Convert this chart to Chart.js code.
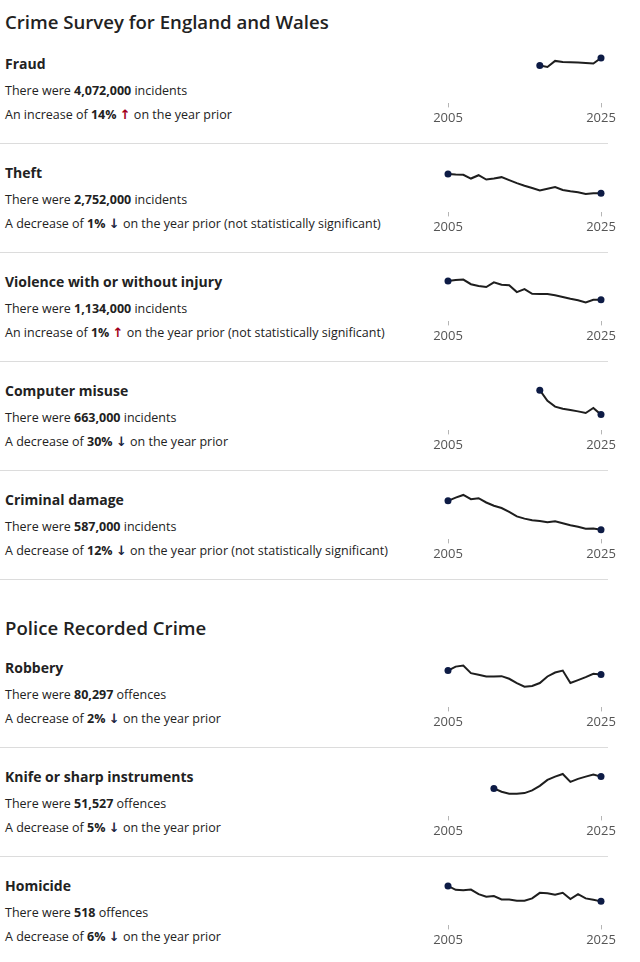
<!DOCTYPE html>
<html>
<head>
<meta charset="utf-8">
<title>Crime trends</title>
<script src="https://cdn.jsdelivr.net/npm/chart.js@4.4.1/dist/chart.umd.min.js"></script>
<style>
  body { margin: 0; background: #fff; font-family: "Open Sans", sans-serif; color: #222; }
  #page { width: 608px; }
  .heading { margin: 0; padding: 11px 0 2px 5px; font-size: 18.6px; line-height: 22px; font-weight: 600; }
  .heading.second { padding-top: 37px; padding-bottom: 0; }
  .panel { position: relative; height: 108px; border-bottom: 1px solid #dcdcdc; }
  .panel.last { border-bottom: none; }
  .name { position: absolute; left: 5px; top: 19px; font-size: 14px; line-height: 20px; font-weight: 700; }
  .count, .change { position: absolute; left: 5px; font-size: 12.5px; line-height: 20px; white-space: nowrap; }
  .count { top: 46px; }
  .change { top: 70px; }
  .up, .down { font-family: "DejaVu Sans", sans-serif; font-size: 13px; font-weight: 700; }
  .up { color: #a3001c; }
  .down { color: #1c2540; }
  canvas { position: absolute; left: 418px; top: 8px; }
</style>
</head>
<body>
<div id="page"></div>
<script>
// years shown on every sparkline
const years = [2005, 2006, 2007, 2008, 2009, 2010, 2011, 2012, 2013, 2014, 2015,
               2016, 2017, 2018, 2019, 2020, 2021, 2022, 2023, 2024, 2025];
const tickYears = [2005, 2025];

const sections = ['Crime Survey for England and Wales', 'Police Recorded Crime'];
const panelSection = [0, 0, 0, 0, 0, 1, 1, 1];
const panelNames = ['Fraud', 'Theft', 'Violence with or without injury', 'Computer misuse',
                    'Criminal damage', 'Robbery', 'Knife or sharp instruments', 'Homicide'];
const counts = ['4,072,000', '2,752,000', '1,134,000', '663,000', '587,000', '80,297', '51,527', '518'];
const units = ['incidents', 'incidents', 'incidents', 'incidents', 'incidents', 'offences', 'offences', 'offences'];
const changePct = [14, 1, 1, 30, 12, 2, 5, 6];
const directions = ['up', 'down', 'up', 'down', 'down', 'down', 'down', 'down'];
const notSignificant = [false, true, true, false, true, false, false, false];

// CSEW series in thousands, police recorded in offences (null = no data)
const fraud = [null, null, null, null, null, null, null, null, null, null, null, null,
               3390, 3270, 3810, 3720, 3690, 3660, 3630, 3570, 4072];
const theft = [5560, 5460, 5420, 4890, 5370, 4750, 4890, 5090, 4660, 4230, 3850,
               3520, 3180, 3420, 3660, 3240, 3040, 2900, 2670, 2780, 2752];
const violence = [2110, 2160, 2180, 1940, 1850, 1790, 2040, 1910, 1890, 1530, 1680,
                  1440, 1430, 1430, 1360, 1270, 1180, 1100, 990, 1123, 1134];
const computerMisuse = [null, null, null, null, null, null, null, null, null, null, null, null,
                        1690, 1240, 1000, 910, 860, 800, 730, 940, 663];
const criminalDamage = [2360, 2560, 2720, 2460, 2520, 2260, 2060, 1920, 1690, 1410, 1270,
                        1170, 1130, 1050, 1110, 990, 870, 770, 650, 667, 587];
const robbery = [89900, 99600, 102100, 83600, 79600, 75500, 75500, 76300, 69900, 59500, 50600,
                 52200, 59500, 75500, 85200, 89900, 59500, 66700, 73900, 81900, 80297];
const knife = [null, null, null, null, null, null,
               36200, 31900, 29400, 29400, 30200, 33700, 39600, 47300, 51500, 55000,
               44700, 48600, 51500, 54200, 51527];
const homicide = [851, 766, 759, 773, 674, 617, 631, 560, 560, 532, 532,
                  582, 702, 695, 660, 702, 567, 674, 582, 551, 518];

const series = [fraud, theft, violence, computerMisuse, criminalDamage, robbery, knife, homicide];
const axisMax = [4160, 6700, 2420, 1950, 2840, 113300, 60100, 1000];

const page = document.getElementById('page');
let currentSection = -1;

panelNames.forEach((name, i) => {
    if (panelSection[i] !== currentSection) {
        currentSection = panelSection[i];
        const h = document.createElement('h2');
        h.className = 'heading' + (currentSection > 0 ? ' second' : '');
        h.textContent = sections[currentSection];
        page.appendChild(h);
    }

    const panel = document.createElement('div');
    panel.className = 'panel' + (i === panelNames.length - 1 ? ' last' : '');
    const word = directions[i] === 'up' ? 'An increase' : 'A decrease';
    const arrow = directions[i] === 'up' ? '\u2191' : '\u2193';
    panel.innerHTML =
        '<div class="name">' + name + '</div>' +
        '<div class="count">There were <b>' + counts[i] + '</b> ' + units[i] + '</div>' +
        '<div class="change">' + word + ' of <b>' + changePct[i] + '%</b> <span class="' + directions[i] + '">' +
        arrow + '</span> on the year prior' + (notSignificant[i] ? ' (not statistically significant)' : '') + '</div>';

    const canvas = document.createElement('canvas');
    canvas.width = 213;
    canvas.height = 90;
    panel.appendChild(canvas);
    page.appendChild(panel);

    const points = years.map((y, k) => ({ x: y, y: series[i][k] })).filter(p => p.y !== null);
    const last = points.length - 1;

    new Chart(canvas, {
        type: 'line',
        data: {
            datasets: [{
                data: points,
                borderColor: '#1e1e1e',
                borderWidth: 2,
                tension: 0,
                clip: false,
                pointRadius: ctx => (ctx.dataIndex === 0 || ctx.dataIndex === last) ? 3.5 : 0,
                pointBackgroundColor: '#0d1b45',
                pointBorderColor: '#0d1b45',
                pointBorderWidth: 0
            }]
        },
        options: {
            responsive: false,
            animation: false,
            layout: { padding: { left: 30, right: 30, top: 14, bottom: 4 } },
            plugins: { legend: { display: false }, tooltip: { enabled: false } },
            scales: {
                x: {
                    type: 'linear',
                    min: years[0],
                    max: years[years.length - 1],
                    afterBuildTicks: scale => { scale.ticks = tickYears.map(v => ({ value: v })); },
                    border: { display: false },
                    grid: { drawOnChartArea: false, tickLength: 4, color: '#b5b5b5' },
                    ticks: {
                        padding: 3,
                        color: '#555',
                        font: { family: 'Open Sans', size: 13 },
                        maxRotation: 0,
                        callback: v => String(v)
                    }
                },
                y: {
                    display: false,
                    min: 0,
                    max: axisMax[i]
                }
            }
        }
    });
});
</script>
</body>
</html>
